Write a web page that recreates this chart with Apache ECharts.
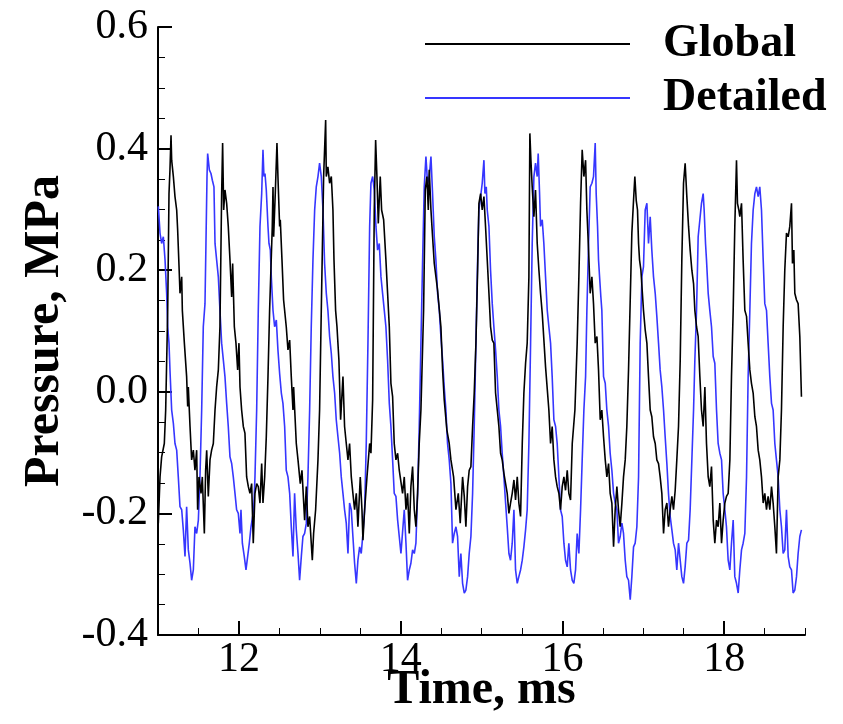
<!DOCTYPE html>
<html>
<head>
<meta charset="utf-8">
<script src="https://cdn.jsdelivr.net/npm/echarts@6/dist/echarts.min.js"></script>
<style>
html,body{margin:0;padding:0;background:#fff;}
#chart{width:843px;height:724px;}
</style>
</head>
<body>
<div id="chart"></div>
<script>
// ---- Data (time in ms, pressure in MPa) ----
const seriesNames = ['Global', 'Detailed'];
const xMajorTicks = [12, 14, 16, 18];
const xMinorTicks = [11.5, 12.5, 13, 13.5, 14.5, 15, 15.5, 16.5, 17, 17.5, 18.5, 19];

const globalT = [
11.004,11.025,11.045,11.078,11.095,11.120,11.136,11.148,11.161,11.169,11.190,11.210,11.231,11.243,11.260,11.272,11.293,11.301,11.326,11.354,11.367,11.375,11.396,11.416,11.437,11.457,11.478,11.490,11.507,11.532,11.548,11.573,11.589,11.602,11.622,11.643,11.663,11.684,11.705,11.725,11.746,11.766,11.787,11.799,11.812,11.828,11.849,11.869,11.890,11.911,11.923,11.944,11.964,11.985,12.001,12.014,12.034,12.055,12.075,12.096,12.117,12.137,12.158,12.178,12.199,12.220,12.240,12.261,12.282,
12.298,12.319,12.339,12.360,12.380,12.413,12.422,12.430,12.450,12.471,12.483,12.504,12.512,12.533,12.553,12.586,12.607,12.628,12.648,12.669,12.677,12.710,12.731,12.759,12.780,12.813,12.834,12.854,12.875,12.908,12.924,12.949,12.978,12.998,13.019,13.048,13.073,13.081,13.101,13.122,13.143,13.163,13.176,13.196,13.213,13.237,13.258,13.287,13.307,13.328,13.349,13.369,13.390,13.410,13.431,13.452,13.472,13.501,13.522,13.534,13.555,13.584,13.617,
13.633,13.654,13.674,13.691,13.707,13.724,13.748,13.765,13.790,13.818,13.839,13.860,13.880,13.901,13.921,13.942,13.963,13.983,14.024,14.045,14.066,14.086,14.107,14.127,14.148,14.169,14.189,14.210,14.230,14.251,14.284,14.305,14.325,14.342,14.354,14.375,14.395,14.416,14.457,14.498,14.519,14.539,14.572,14.601,14.622,14.655,14.684,14.713,14.737,14.766,14.787,14.807,14.828,14.848,14.869,14.890,14.910,14.931,14.952,
14.968,14.989,15.009,15.030,15.050,15.071,15.092,15.112,15.133,15.153,15.174,15.195,15.215,15.236,15.256,15.277,15.298,15.318,15.339,15.359,15.380,15.401,15.421,15.442,15.462,15.483,15.504,15.524,15.545,15.565,15.586,15.598,15.611,15.627,15.648,15.668,15.689,15.710,15.730,15.751,15.792,15.833,15.854,15.874,15.895,15.916,15.936,15.957,15.977,15.998,16.019,16.039,16.060,16.080,16.101,16.122,16.155,16.183,16.204,16.225,16.245,16.266,16.287,
16.303,16.324,16.344,16.365,16.385,16.406,16.427,16.447,16.468,16.488,16.509,16.530,16.550,16.571,16.591,16.612,16.633,16.653,16.674,16.694,16.715,16.736,16.756,16.777,16.797,16.818,16.839,16.859,16.880,16.896,16.913,16.929,16.942,16.954,16.971,17.003,17.024,17.045,17.065,17.086,17.106,17.127,17.148,17.168,17.189,17.209,17.230,17.251,17.271,17.292,17.312,17.333,17.354,17.374,17.395,17.415,17.436,17.457,17.477,17.498,17.518,17.539,17.560,17.580,17.601,17.622,
17.638,17.659,17.679,17.700,17.720,17.741,17.762,17.782,17.803,17.823,17.844,17.865,17.885,17.906,17.926,17.947,17.968,17.988,18.009,18.029,18.050,18.071,18.091,18.112,18.132,18.153,18.165,18.182,18.194,18.215,18.235,18.256,18.277,18.297,18.318,18.338,18.359,18.380,18.400,18.421,18.441,18.462,18.483,18.503,18.524,18.544,18.565,18.586,18.606,18.627,18.647,18.668,18.689,18.709,18.730,18.750,18.771,18.792,18.812,18.833,18.845,18.862,18.874,18.895,18.915,18.936,18.956
];
const globalP = [
-0.216,-0.140,-0.107,-0.085,-0.030,0.134,0.326,0.365,0.422,0.381,0.354,0.321,0.299,0.266,0.206,0.162,0.189,0.134,0.080,0.025,-0.024,0.008,-0.057,-0.112,-0.096,-0.129,-0.096,-0.194,-0.140,-0.167,-0.140,-0.233,-0.129,-0.096,-0.172,-0.112,-0.096,-0.085,-0.030,0.008,0.036,0.107,0.326,0.409,0.299,0.332,0.310,0.272,0.217,0.156,0.211,0.107,0.080,0.036,0.080,0.008,-0.030,-0.057,-0.068,-0.140,-0.156,-0.167,-0.151,-0.249,-0.167,-0.151,-0.156,-0.183,-0.118,
-0.183,-0.140,-0.074,0.025,0.134,0.272,0.337,0.255,0.326,0.409,0.354,0.272,0.283,0.217,0.151,0.107,0.069,0.085,0.025,-0.030,0.008,-0.085,-0.112,-0.151,-0.129,-0.211,-0.156,-0.222,-0.205,-0.277,-0.233,-0.194,-0.112,-0.030,0.134,0.354,0.447,0.354,0.370,0.343,0.354,0.299,0.217,0.134,0.107,0.052,-0.046,0.025,-0.057,-0.085,-0.112,-0.085,-0.140,-0.167,-0.194,-0.167,-0.222,-0.140,-0.194,-0.244,-0.194,-0.140,-0.085,
-0.101,-0.013,0.299,0.414,0.354,0.277,0.354,0.299,0.283,0.217,0.162,0.107,0.014,-0.008,-0.085,-0.112,-0.101,-0.129,-0.167,-0.140,-0.194,-0.167,-0.233,-0.156,-0.123,-0.194,-0.222,-0.167,-0.085,-0.030,0.134,0.332,0.354,0.299,0.365,0.299,0.255,0.211,0.167,0.107,0.036,-0.013,-0.063,-0.085,-0.112,-0.140,-0.194,-0.167,-0.216,-0.140,-0.172,-0.222,-0.156,-0.129,-0.123,-0.057,-0.002,0.080,0.200,
0.310,0.326,0.299,0.321,0.272,0.217,0.162,0.107,0.085,0.080,-0.002,-0.030,-0.057,-0.101,-0.112,-0.134,-0.151,-0.167,-0.200,-0.183,-0.167,-0.145,-0.178,-0.140,-0.183,-0.205,-0.085,-0.002,0.047,0.080,0.189,0.425,0.381,0.337,0.288,0.332,0.244,0.200,0.162,0.129,0.041,-0.030,-0.085,-0.057,-0.112,-0.140,-0.156,-0.167,-0.194,-0.156,-0.140,-0.162,-0.129,-0.167,-0.178,-0.085,-0.030,0.080,0.189,0.310,0.398,0.354,0.381,
0.299,0.233,0.162,0.189,0.145,0.080,0.091,0.036,-0.046,-0.030,-0.074,-0.112,-0.140,-0.118,-0.167,-0.183,-0.255,-0.194,-0.156,-0.194,-0.222,-0.183,-0.140,-0.112,-0.057,0.036,0.151,0.261,0.315,0.354,0.315,0.299,0.244,0.217,0.200,0.134,0.102,0.080,0.025,-0.030,-0.041,-0.074,-0.085,-0.112,-0.118,-0.140,-0.167,-0.233,-0.194,-0.183,-0.222,-0.194,-0.172,-0.194,-0.162,-0.112,-0.057,0.052,0.217,0.343,0.376,0.321,0.272,0.233,0.200,0.178,
0.134,0.107,0.091,0.025,-0.030,-0.057,0.008,-0.085,-0.140,-0.156,-0.123,-0.211,-0.249,-0.211,-0.222,-0.183,-0.249,-0.211,-0.183,-0.172,-0.167,-0.112,0.025,0.134,0.272,0.381,0.310,0.299,0.288,0.310,0.217,0.134,0.124,0.080,0.036,0.014,-0.002,-0.041,-0.057,-0.096,-0.112,-0.140,-0.183,-0.167,-0.194,-0.172,-0.194,-0.156,-0.183,-0.222,-0.266,-0.140,-0.112,-0.030,0.107,0.200,0.261,0.255,0.272,0.310,0.211,0.233,0.162,0.151,0.145,0.091,-0.008
];

const detailedT = [
11.004,11.025,11.045,11.066,11.087,11.107,11.120,11.136,11.148,11.169,11.190,11.210,11.231,11.251,11.272,11.293,11.313,11.334,11.354,11.375,11.396,11.416,11.437,11.457,11.478,11.499,11.519,11.540,11.560,11.581,11.593,11.606,11.614,11.635,11.655,11.672,11.692,11.705,11.725,11.746,11.766,11.787,11.808,11.828,11.849,11.869,11.890,11.911,11.931,11.952,11.972,11.993,12.014,12.026,12.043,12.067,12.088,12.108,12.129,12.150,12.166,12.183,12.199,12.220,12.240,12.261,12.282,
12.298,12.310,12.323,12.339,12.360,12.372,12.389,12.401,12.422,12.442,12.463,12.483,12.504,12.525,12.545,12.566,12.586,12.607,12.628,12.648,12.669,12.689,12.710,12.731,12.751,12.772,12.792,12.813,12.834,12.854,12.875,12.895,12.916,12.937,12.957,12.978,12.998,13.019,13.040,13.060,13.081,13.101,13.122,13.143,13.163,13.184,13.204,13.225,13.246,13.266,13.287,13.307,13.328,13.349,13.369,13.390,13.410,13.431,13.452,13.472,13.493,13.513,13.534,13.555,13.575,13.596,13.617,
13.633,13.654,13.674,13.695,13.715,13.736,13.757,13.777,13.798,13.818,13.839,13.860,13.880,13.901,13.921,13.942,13.963,13.983,14.004,14.024,14.045,14.066,14.086,14.107,14.127,14.148,14.169,14.189,14.210,14.230,14.251,14.272,14.292,14.313,14.333,14.354,14.375,14.395,14.416,14.436,14.457,14.478,14.498,14.519,14.539,14.560,14.580,14.601,14.622,14.642,14.663,14.684,14.704,14.725,14.745,14.766,14.787,14.807,14.828,14.848,14.869,14.890,14.910,14.931,14.952,
14.968,14.989,15.009,15.030,15.042,15.059,15.071,15.092,15.112,15.133,15.153,15.174,15.195,15.215,15.236,15.256,15.277,15.298,15.318,15.339,15.359,15.380,15.401,15.421,15.442,15.462,15.483,15.504,15.524,15.545,15.565,15.586,15.607,15.627,15.648,15.668,15.689,15.701,15.718,15.730,15.751,15.771,15.792,15.813,15.833,15.854,15.874,15.895,15.916,15.936,15.957,15.977,15.998,16.019,16.039,16.060,16.080,16.101,16.122,16.142,16.163,16.183,16.204,16.225,16.245,16.266,16.287,
16.303,16.324,16.344,16.365,16.385,16.406,16.418,16.435,16.447,16.460,16.476,16.488,16.509,16.530,16.550,16.571,16.591,16.612,16.633,16.653,16.674,16.694,16.715,16.736,16.756,16.777,16.797,16.818,16.839,16.859,16.880,16.900,16.921,16.942,16.962,16.983,17.003,17.024,17.045,17.065,17.086,17.106,17.127,17.148,17.168,17.189,17.209,17.230,17.251,17.271,17.292,17.312,17.333,17.354,17.374,17.395,17.415,17.436,17.457,17.477,17.498,17.518,17.539,17.560,17.580,17.601,17.622,
17.638,17.659,17.679,17.700,17.720,17.741,17.753,17.770,17.782,17.803,17.823,17.844,17.865,17.885,17.906,17.926,17.947,17.968,17.988,18.009,18.029,18.050,18.071,18.091,18.112,18.132,18.153,18.174,18.194,18.215,18.235,18.256,18.277,18.297,18.318,18.338,18.359,18.380,18.400,18.421,18.441,18.462,18.483,18.503,18.524,18.544,18.565,18.586,18.606,18.627,18.647,18.668,18.689,18.709,18.730,18.750,18.771,18.792,18.812,18.833,18.853,18.874,18.895,18.915,18.936,18.956
];
const detailedP = [
0.305,0.261,0.244,0.255,0.217,0.162,0.107,0.080,0.036,-0.030,-0.052,-0.085,-0.096,-0.140,-0.189,-0.194,-0.227,-0.271,-0.189,-0.260,-0.282,-0.310,-0.293,-0.222,-0.233,-0.211,-0.140,-0.030,0.107,0.145,0.244,0.354,0.392,0.365,0.359,0.348,0.337,0.244,0.217,0.189,0.134,0.080,0.052,0.025,-0.019,-0.057,-0.107,-0.118,-0.140,-0.167,-0.194,-0.200,-0.233,-0.194,-0.249,-0.271,-0.293,-0.293,-0.249,-0.222,-0.222,-0.194,-0.140,-0.030,0.134,0.272,0.326,
0.398,0.354,0.359,0.332,0.272,0.244,0.233,0.189,0.134,0.107,0.118,0.069,0.030,-0.002,-0.019,-0.057,-0.129,-0.140,-0.167,-0.222,-0.271,-0.167,-0.227,-0.266,-0.310,-0.271,-0.238,-0.233,-0.216,-0.140,-0.030,0.107,0.217,0.299,0.337,0.354,0.376,0.354,0.299,0.211,0.162,0.134,0.091,0.063,0.025,-0.002,-0.046,-0.074,-0.101,-0.140,-0.167,-0.194,-0.216,-0.266,-0.183,-0.194,-0.238,-0.282,-0.315,-0.277,-0.255,-0.266,-0.233,-0.194,-0.085,0.080,0.272,
0.343,0.354,0.332,0.272,0.233,0.244,0.189,0.162,0.134,0.107,0.052,-0.019,-0.057,-0.112,-0.167,-0.172,-0.211,-0.238,-0.266,-0.266,-0.194,-0.249,-0.310,-0.293,-0.282,-0.260,-0.266,-0.249,-0.167,-0.057,0.080,0.217,0.337,0.387,0.343,0.354,0.387,0.326,0.255,0.217,0.162,0.134,0.091,0.052,0.008,-0.030,-0.085,-0.112,-0.151,-0.249,-0.233,-0.222,-0.238,-0.304,-0.266,-0.315,-0.331,-0.326,-0.304,-0.266,-0.238,-0.167,-0.057,0.080,0.217,
0.299,0.321,0.343,0.381,0.326,0.337,0.299,0.272,0.200,0.145,0.107,0.069,0.025,-0.030,-0.057,-0.101,-0.140,-0.183,-0.222,-0.266,-0.277,-0.249,-0.194,-0.293,-0.315,-0.304,-0.293,-0.277,-0.255,-0.227,-0.194,-0.085,0.080,0.244,0.354,0.376,0.354,0.392,0.326,0.272,0.283,0.244,0.189,0.134,0.107,0.080,0.025,-0.046,-0.057,-0.085,-0.140,-0.194,-0.205,-0.249,-0.277,-0.288,-0.249,-0.293,-0.310,-0.315,-0.293,-0.233,-0.266,-0.194,-0.112,-0.030,0.025,
0.134,0.244,0.337,0.343,0.354,0.409,0.326,0.272,0.217,0.189,0.156,0.134,0.025,0.014,-0.030,-0.057,-0.101,-0.129,-0.167,-0.183,-0.194,-0.249,-0.238,-0.216,-0.233,-0.277,-0.304,-0.310,-0.342,-0.304,-0.255,-0.249,-0.222,-0.140,0.080,0.189,0.206,0.299,0.310,0.244,0.288,0.233,0.189,0.162,0.124,0.080,0.036,0.008,-0.030,-0.074,-0.118,-0.167,-0.205,-0.227,-0.249,-0.260,-0.293,-0.249,-0.277,-0.304,-0.315,-0.288,-0.249,-0.244,-0.194,-0.112,-0.030,
0.052,0.134,0.255,0.283,0.310,0.326,0.299,0.244,0.217,0.162,0.134,0.107,0.058,0.047,-0.030,-0.085,-0.101,-0.112,-0.167,-0.194,-0.222,-0.277,-0.293,-0.249,-0.211,-0.304,-0.315,-0.331,-0.293,-0.260,-0.249,-0.233,-0.140,0.025,0.134,0.244,0.299,0.326,0.337,0.321,0.337,0.299,0.217,0.145,0.134,0.080,0.025,-0.019,-0.030,-0.085,-0.112,-0.140,-0.194,-0.222,-0.266,-0.260,-0.194,-0.271,-0.288,-0.293,-0.331,-0.326,-0.304,-0.266,-0.238,-0.227
];

const pairs = (t, p) => t.map((v, i) => [v, p[i]]);

const serif = "'Liberation Serif', 'Times New Roman', serif";
const chart = echarts.init(document.getElementById('chart'), null, {renderer: 'canvas'});

const legendText = {fontFamily: serif, fontWeight: 'bold', fontSize: 46, color: '#000', lineHeight: 46, padding: [0, 0, 0, 28]};

const option = {
  animation: false,
  backgroundColor: '#ffffff',
  grid: {left: 158, right: 38, top: 27, bottom: 89, containLabel: false, outerBoundsMode: 'none'},
  legend: [
    {
      data: [seriesNames[0]], orient: 'vertical', left: 420, top: 16,
      itemWidth: 205, itemHeight: 2, icon: 'rect',
      textStyle: legendText, selectedMode: false
    },
    {
      data: [seriesNames[1]], orient: 'vertical', left: 420, top: 70,
      itemWidth: 205, itemHeight: 2, icon: 'rect',
      textStyle: legendText, selectedMode: false
    }
  ],
  xAxis: [
    {
      type: 'value', min: 11, max: 19, position: 'bottom',
      name: 'Time, ms', nameLocation: 'middle', nameGap: 32, nameMoveOverlap: false,
      nameTextStyle: {fontFamily: serif, fontWeight: 'bold', fontSize: 48, color: '#000'},
      axisLine: {show: true, onZero: false, lineStyle: {color: '#000', width: 2}},
      axisTick: {show: true, inside: true, length: 14, lineStyle: {color: '#000', width: 2}, customValues: xMajorTicks},
      axisLabel: {show: true, customValues: xMajorTicks, margin: 4, fontFamily: serif, fontSize: 42, color: '#000'},
      splitLine: {show: false}
    },
    {
      type: 'value', min: 11, max: 19, position: 'bottom',
      axisLine: {show: false, onZero: false},
      axisTick: {show: true, inside: true, length: 7, lineStyle: {color: '#000', width: 1}, customValues: xMinorTicks},
      axisLabel: {show: false},
      splitLine: {show: false}
    }
  ],
  yAxis: {
    type: 'value', min: -0.4, max: 0.6, interval: 0.2,
    name: 'Pressure, MPa', nameLocation: 'middle', nameGap: 88, nameRotate: 90, nameMoveOverlap: false,
    nameTextStyle: {fontFamily: serif, fontWeight: 'bold', fontSize: 50, color: '#000'},
    axisLine: {show: true, onZero: false, lineStyle: {color: '#000', width: 2}},
    axisTick: {show: true, inside: true, length: 14, lineStyle: {color: '#000', width: 2}},
    minorTick: {show: true, splitNumber: 4, length: 7, lineStyle: {color: '#000', width: 1}},
    axisLabel: {margin: 10, fontFamily: serif, fontSize: 42, color: '#000', formatter: v => v.toFixed(1)},
    splitLine: {show: false},
    minorSplitLine: {show: false}
  },
  series: [
    {
      name: seriesNames[1], type: 'line', xAxisIndex: 0, showSymbol: false, symbol: 'none',
      data: pairs(detailedT, detailedP), z: 2,
      lineStyle: {color: '#3636ff', width: 1.6}, itemStyle: {color: '#3636ff'}
    },
    {
      name: seriesNames[0], type: 'line', xAxisIndex: 0, showSymbol: false, symbol: 'none',
      data: pairs(globalT, globalP), z: 3,
      lineStyle: {color: '#000000', width: 1.6}, itemStyle: {color: '#000000'}
    }
  ]
};
chart.setOption(option);
</script>
</body>
</html>
